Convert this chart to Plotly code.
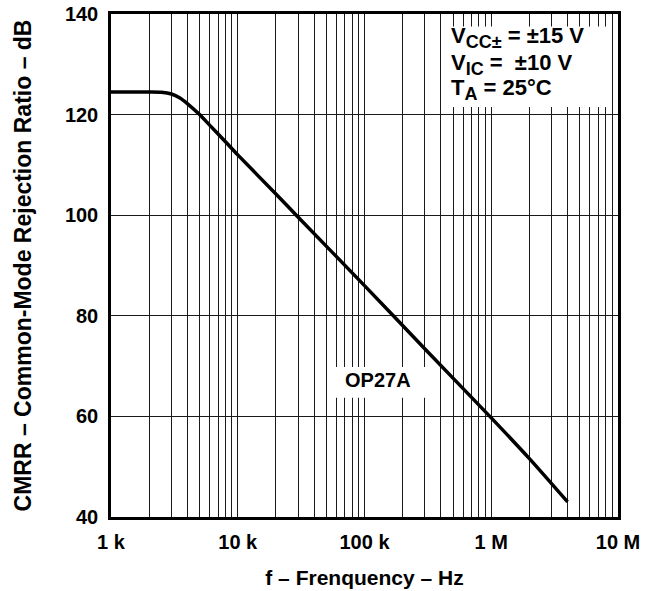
import plotly.graph_objects as go

freq_hz = [1000, 2000, 2500, 3000, 3500, 4000, 5000, 6000, 8000,
           10000, 20000, 30000, 100000, 300000, 1000000, 2000000, 4000000]
cmrr_db = [124.5, 124.5, 124.45, 124.1, 123.3, 122.2, 120.0, 117.9, 114.6,
           112.0, 104.2, 99.6, 86.0, 73.4, 59.7, 51.6, 43.0]

x_tick_vals = [1e3, 1e4, 1e5, 1e6, 1e7]
x_tick_text = ["1 k", "10 k", "100 k", "1 M", "10 M"]
y_tick_vals = [40, 60, 80, 100, 120, 140]

FONT = "Liberation Sans, Arial, sans-serif"
GRID = "#1a1a1a"

fig = go.Figure()
fig.add_trace(go.Scatter(x=freq_hz, y=cmrr_db, mode="lines",
                         line=dict(color="black", width=3.5, shape="spline", smoothing=0.7),
                         showlegend=False, hoverinfo="skip"))

fig.update_layout(
    width=652, height=591,
    margin=dict(l=111, r=34, t=14, b=74),
    paper_bgcolor="white", plot_bgcolor="white",
    font=dict(family=FONT, size=20, color="black"),
    xaxis=dict(type="log", range=[3, 7], tickvals=x_tick_vals, ticktext=x_tick_text,
               automargin=False,
               showgrid=True, gridcolor=GRID, gridwidth=1,
               minor=dict(showgrid=True, gridcolor=GRID, gridwidth=1, dtick="D1", ticks=""),
               showline=True, linecolor="black", linewidth=2.5, mirror=True,
               ticks="", zeroline=False, ticklabelstandoff=5, ticklabeloverflow="allow",
               tickfont=dict(family=FONT, size=20, color="black", weight="bold"),
               title=dict(text="<b>f – Frenquency – Hz</b>", standoff=19,
                          font=dict(family=FONT, size=21, color="black"))),
    yaxis=dict(range=[40, 140], tickvals=y_tick_vals,
               automargin=False,
               showgrid=True, gridcolor=GRID, gridwidth=1,
               showline=True, linecolor="black", linewidth=2.5, mirror=True,
               ticks="", zeroline=False, ticklabelstandoff=6, ticklabeloverflow="allow",
               tickfont=dict(family=FONT, size=20, color="black", weight="bold"),
               title=dict(text="<b>CMRR – Common-Mode Rejection Ratio – dB</b>", standoff=27,
                          font=dict(family=FONT, size=23, color="black"))),
)

# white boxes masking gridlines behind the labels
fig.add_shape(type="rect", xref="paper", yref="paper", x0=0.663, x1=0.984, y0=0.815, y1=0.975,
              fillcolor="white", line=dict(width=0), layer="above")
fig.add_shape(type="rect", xref="paper", yref="paper", x0=0.442, x1=0.634, y0=0.237, y1=0.298,
              fillcolor="white", line=dict(width=0), layer="above")

legend_lines = ["V<sub><span style='font-size:18px'>CC±</span></sub> = ±15 V",
                "V<sub><span style='font-size:18px'>IC</span></sub> =  ±10 V",
                "T<sub><span style='font-size:18px'>A</span></sub> = 25°C"]
legend_y = [0.953, 0.899, 0.849]
for txt, yy in zip(legend_lines, legend_y):
    fig.add_annotation(xref="paper", yref="paper", x=0.667, y=yy, text="<b>" + txt + "</b>",
                       showarrow=False, xanchor="left", yanchor="middle", align="left",
                       font=dict(family=FONT, size=22, color="black"))

fig.add_annotation(xref="paper", yref="paper", x=0.527, y=0.272, text="<b>OP27A</b>",
                   showarrow=False, xanchor="center", yanchor="middle",
                   font=dict(family=FONT, size=20, color="black"))

fig.write_html("out.html", config={"displayModeBar": False},
               post_script="document.body.style.margin='0px';document.body.style.padding='0px';")
